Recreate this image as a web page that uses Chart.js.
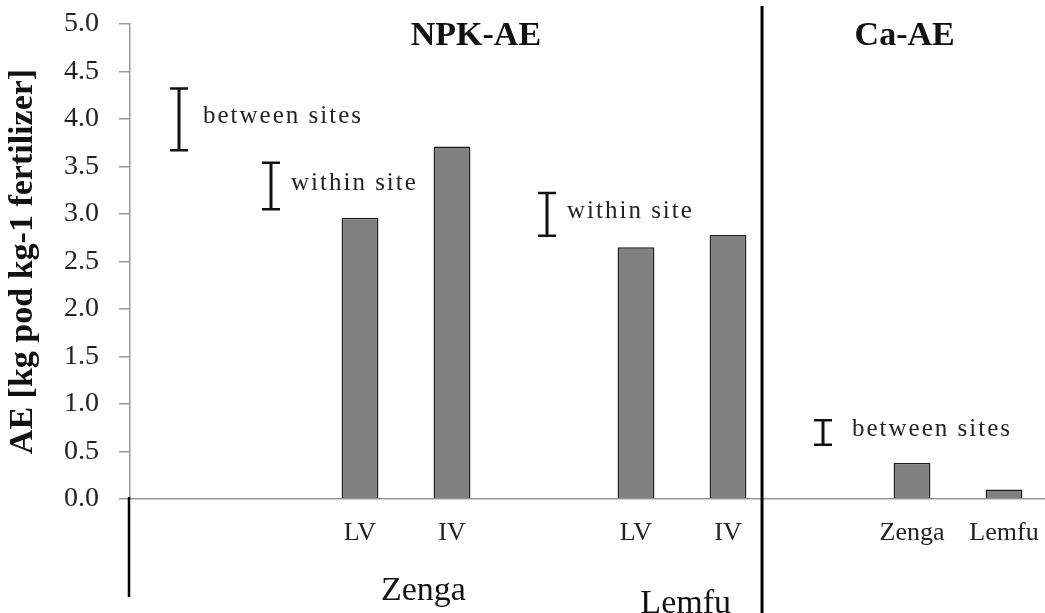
<!DOCTYPE html>
<html>
<head>
<meta charset="utf-8">
<script src="https://cdn.jsdelivr.net/npm/chart.js@4.4.1/dist/chart.umd.min.js"></script>
<style>
  html, body { margin: 0; padding: 0; background: #fff; overflow: hidden; }
  #wrap { position: absolute; left: 0; top: 0; width: 1050px; height: 613px; }
</style>
</head>
<body>
<div id="wrap"><canvas id="chart" width="1050" height="613"></canvas></div>
<script>
// categories along the x axis (empty slots hold the range markers)
const categories = ["", "", "LV", "IV", "", "LV", "IV", "", "Zenga", "Lemfu"]
const aeValues = [null, null, 2.96, 3.71, null, 2.65, 2.78, null, 0.38, 0.10]

// variability ranges drawn as I-bars
const rangeAt = [0, 1, 4, 7]
const rangeLow = [3.67, 3.05, 2.77, 0.57]
const rangeHigh = [4.32, 3.54, 3.22, 0.83]
const rangeText = ["between sites", "within site", "within site", "between sites"]

// group and panel labels, placed at category positions
const siteLabels = ["Zenga", "Lemfu"]
const siteAt = [2.69, 5.54]
const panelTitles = ["NPK-AE", "Ca-AE"]
const panelAt = [3.26, 7.92]
const dividerAt = 6.37

const yMin = 0
const yMax = 5
const yStep = 0.5

const serif = "'Liberation Serif', 'Times New Roman', serif"

const overlay = {
  id: "overlay",
  afterDatasetsDraw(chart) {
    const { ctx, chartArea, scales: { x, y } } = chart
    ctx.save()

    // I-bars with their captions
    ctx.strokeStyle = "#111"
    ctx.fillStyle = "#222"
    ctx.font = "25px " + serif
    ctx.textBaseline = "middle"
    ctx.textAlign = "left"
    if ("letterSpacing" in ctx) ctx.letterSpacing = "2px"
    rangeAt.forEach((pos, i) => {
      const px = x.getPixelForValue(pos) + 3
      const top = y.getPixelForValue(rangeHigh[i])
      const bottom = y.getPixelForValue(rangeLow[i])
      ctx.lineWidth = 3
      ctx.beginPath()
      ctx.moveTo(px, top)
      ctx.lineTo(px, bottom)
      ctx.stroke()
      ctx.lineWidth = 2.5
      ctx.beginPath()
      ctx.moveTo(px - 9, top)
      ctx.lineTo(px + 9, top)
      ctx.moveTo(px - 9, bottom)
      ctx.lineTo(px + 9, bottom)
      ctx.stroke()
      const gap = i === 0 ? 24 : (i === 3 ? 29 : 20)
      ctx.fillText(rangeText[i], px + gap, (top + bottom) / 2 - 3)
    })
    if ("letterSpacing" in ctx) ctx.letterSpacing = "0px"

    // panel divider and left edge below the axis
    ctx.strokeStyle = "#000"
    ctx.lineWidth = 3
    const dx = x.getPixelForValue(dividerAt)
    ctx.beginPath()
    ctx.moveTo(dx, 6)
    ctx.lineTo(dx, chart.height)
    ctx.stroke()
    const lx = x.getPixelForValue(-0.5) - 1
    ctx.lineWidth = 2.5
    ctx.beginPath()
    ctx.moveTo(lx, chartArea.bottom - 2)
    ctx.lineTo(lx, chartArea.bottom + 98)
    ctx.stroke()

    // site labels under the variety ticks
    ctx.fillStyle = "#111"
    ctx.font = "34px " + serif
    ctx.textAlign = "center"
    ctx.textBaseline = "alphabetic"
    siteLabels.forEach((t, i) => {
      ctx.fillText(t, x.getPixelForValue(siteAt[i]), chartArea.bottom + (i === 0 ? 101 : 114))
    })

    // panel titles
    ctx.font = "bold 34px " + serif
    ctx.textBaseline = "middle"
    panelTitles.forEach((t, i) => {
      ctx.fillText(t, x.getPixelForValue(panelAt[i]), chartArea.top + 12)
    })
    ctx.restore()
  }
}

new Chart(document.getElementById("chart"), {
  type: "bar",
  data: {
    labels: categories,
    datasets: [{
      label: "AE",
      data: aeValues,
      backgroundColor: "#808080",
      borderColor: "#1a1a1a",
      borderWidth: 1.5,
      barPercentage: 0.4,
      categoryPercentage: 1
    }]
  },
  options: {
    responsive: false,
    animation: false,
    layout: { padding: { top: 24, right: 0, bottom: 0, left: 0 } },
    plugins: {
      legend: { display: false },
      tooltip: { enabled: false }
    },
    scales: {
      x: {
        offset: true,
        grid: { display: false, drawTicks: false },
        border: { display: true, color: "#999", width: 1.5 },
        ticks: {
          color: "#222",
          padding: 19,
          maxRotation: 0,
          autoSkip: false,
          font: { family: serif, size: 26 }
        },
        afterFit(scale) {
          scale.height = 114
          scale.paddingLeft = 0
          scale.paddingRight = 0
        }
      },
      y: {
        min: yMin,
        max: yMax,
        grid: { drawOnChartArea: false, drawTicks: true, tickLength: 11, color: "#999", lineWidth: 1.5 },
        border: { display: true, color: "#999", width: 1.5 },
        ticks: {
          stepSize: yStep,
          color: "#222",
          padding: 20,
          font: { family: serif, size: 28 },
          callback: v => v.toFixed(1)
        },
        title: {
          display: true,
          text: "AE [kg pod kg-1 fertilizer]",
          color: "#111",
          padding: { top: 3, bottom: 0 },
          font: { family: serif, size: 34, weight: "bold", lineHeight: 1.2 }
        },
        afterFit(scale) {
          scale.width = 130
          scale.paddingTop = 0
          scale.paddingBottom = 0
        }
      }
    }
  },
  plugins: [overlay]
})
</script>
</body>
</html>
